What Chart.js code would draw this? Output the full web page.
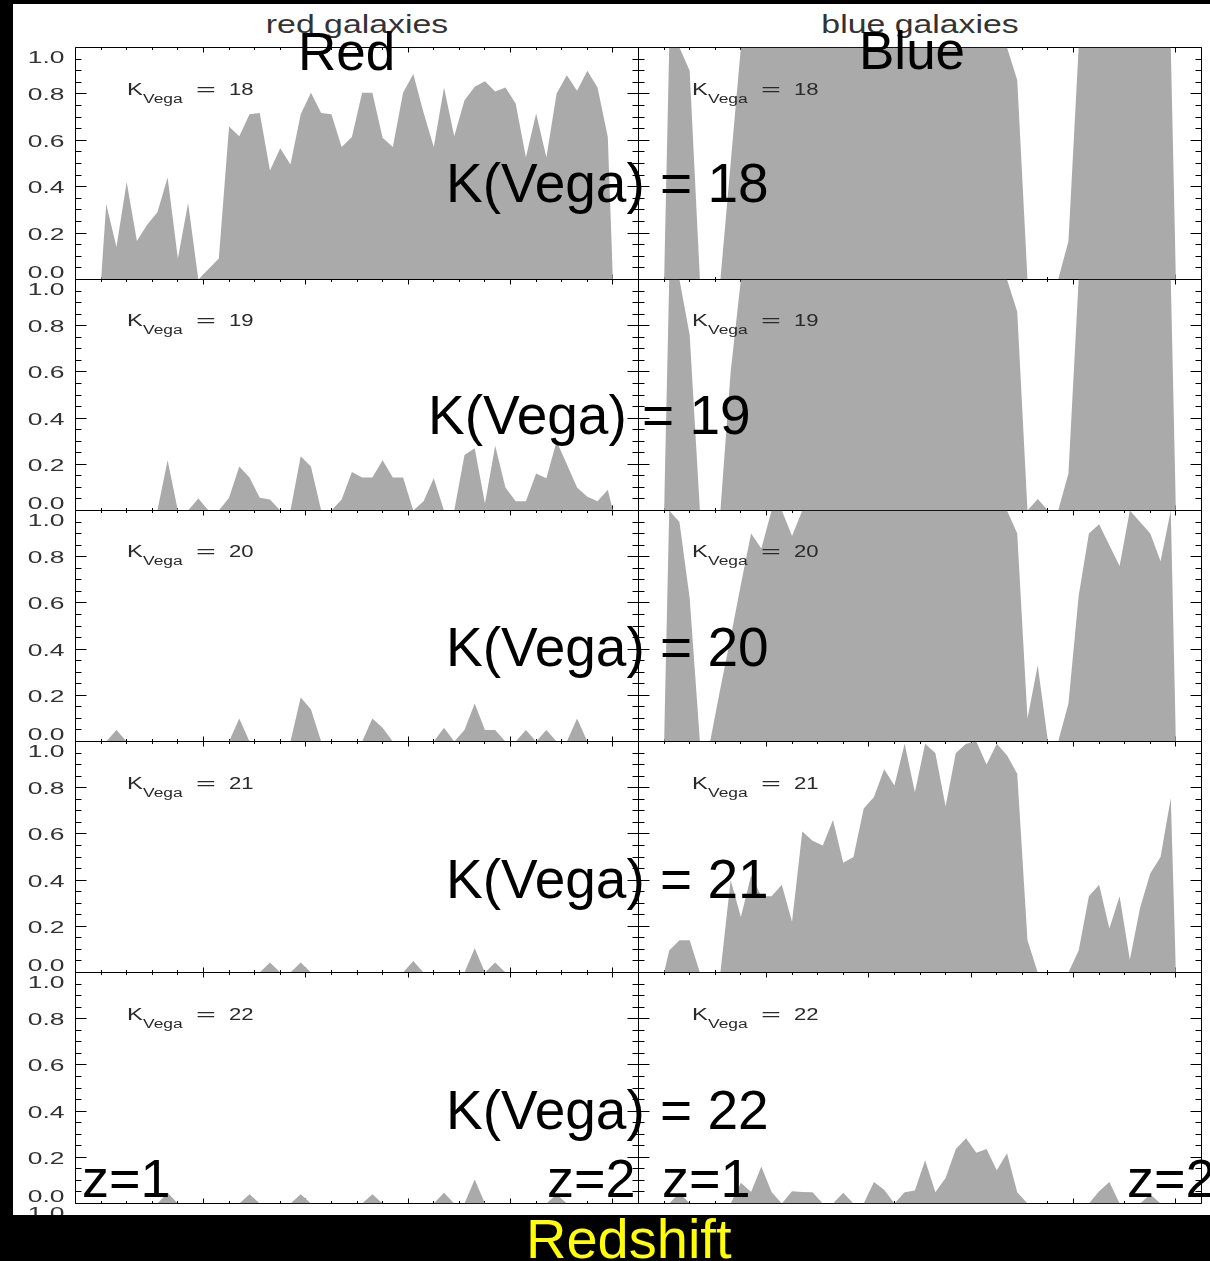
<!DOCTYPE html>
<html>
<head>
<meta charset="utf-8">
<script src="https://cdn.jsdelivr.net/npm/chart.js@4/dist/chart.umd.min.js"></script>
<style>
html,body{margin:0;padding:0;background:#fff;}
#wrap{position:relative;width:1210px;height:1261px;overflow:hidden;background:#fff;font-family:'Liberation Sans',Arial,Helvetica,sans-serif;}
#wrap canvas{position:absolute;}
.t{position:absolute;white-space:nowrap;line-height:1;}
.band{position:absolute;background:#000;z-index:20;}
</style>
</head>
<body>
<div id="wrap"></div>
<script>
// ---------- data ----------
const zBins = [1.00,
  1.01,1.03,1.05,1.07,1.09,1.11,1.13,1.15,1.17,1.19,
  1.21,1.23,1.25,1.27,1.29,1.31,1.33,1.35,1.37,1.39,
  1.41,1.43,1.45,1.47,1.49,1.51,1.53,1.55,1.57,1.59,
  1.61,1.63,1.65,1.67,1.69,1.71,1.73,1.75,1.77,1.79,
  1.81,1.83,1.85,1.87,1.89,1.91,1.93,1.95,1.97,1.99,
  2.00];

const magLabels = ['18','19','20','21','22'];
const columnTitles = ['red galaxies','blue galaxies'];
const columnNames = ['Red','Blue'];
const yTickValues = [0,0.2,0.4,0.6,0.8,1.0];
const yTickLabels = ['0.0','0.2','0.4','0.6','0.8','1.0'];
const xMajorTicks = [1.2,1.4,1.6,1.8,2.0];

const redK18 = [0,
  0.325,0.14,0.42,0.166,0.236,0.29,0.44,0.09,0.33,0,
  0.045,0.09,0.66,0.617,0.712,0.718,0.47,0.566,0.496,0.712,
  0.805,0.718,0.712,0.571,0.614,0.805,0.805,0.611,0.571,0.805,
  0.886,0.72,0.571,0.828,0.617,0.773,0.831,0.855,0.81,0.828,
  0.759,0.527,0.715,0.527,0.802,0.88,0.814,0.9,0.828,0.614,
  0];
const redK19 = [0,
  0,0,0,0,0,0,0.218,0,0,0.052,
  0,0,0.055,0.19,0.143,0.055,0.048,0,0,0.235,
  0.19,0,0,0.048,0.167,0.143,0.143,0.218,0.143,0.143,
  0,0.04,0.14,0,0,0.24,0.27,0.03,0.28,0.1,
  0.04,0.04,0.16,0.14,0.3,0.2,0.1,0.06,0.04,0.09,
  0];
const redK20 = [0,
  0,0.05,0,0,0,0,0,0,0,0,
  0,0,0,0.1,0,0,0,0,0,0.19,
  0.14,0,0,0,0,0,0.1,0.06,0,0,
  0,0,0,0.06,0,0.05,0.165,0.05,0.05,0,
  0,0.05,0,0.05,0,0,0.1,0,0,0,
  0];
const redK21 = [0,
  0,0,0,0,0,0,0,0,0,0,
  0,0,0,0,0,0,0.043,0,0,0.043,
  0,0,0,0,0,0,0,0,0,0,
  0.05,0,0,0,0,0,0.105,0,0.043,0,
  0,0,0,0,0,0,0,0,0,0,
  0];
const redK22 = [0,
  0,0,0,0,0,0,0.047,0,0,0,
  0,0,0,0,0.04,0,0,0,0,0.04,
  0,0,0,0,0,0,0.04,0,0,0,
  0,0,0,0.047,0,0,0.104,0,0,0,
  0,0,0,0,0.04,0,0,0,0,0,
  0];
const blueK18 = [0,
  1,1,0.9,0,0,0,0.5,1,1,1,
  1,1,1,1,1,1,1,1,1,1,
  1,1,1,1,1,1,1,1,1,1,
  1,1,1,1,0.86,0,0,0,0,0.165,
  1,1,1,1,1,1,1,1,1,1,
  0];
const blueK19 = [0,
  1,1,0.76,0,0,0,0.6,1,1,1,
  1,1,1,1,1,1,1,1,1,1,
  1,1,1,1,1,1,1,1,1,1,
  1,1,1,1,0.86,0,0.05,0,0,0.16,
  1,1,1,1,1,1,1,1,1,1,
  0];
const blueK20 = [0,
  1,0.95,0.62,0,0,0.23,0.45,0.68,0.9,0.835,
  1,1,0.89,1,1,1,1,1,1,1,
  1,1,1,1,1,1,1,1,1,1,
  1,1,1,1,0.9,0.1,0.33,0,0,0.165,
  0.63,0.9,0.94,0.85,0.76,1,0.95,0.9,0.78,1,
  0];
const blueK21 = [0,
  0.095,0.14,0.14,0,0,0,0.40,0.24,0.42,0.33,
  0.33,0.38,0.22,0.61,0.57,0.55,0.66,0.475,0.5,0.71,
  0.76,0.88,0.81,0.99,0.78,0.99,0.95,0.72,0.95,0.99,
  1.0,0.9,0.99,0.94,0.86,0.14,0,0,0,0,
  0.095,0.33,0.38,0.19,0.33,0.055,0.28,0.43,0.5,0.755,
  0];
const blueK22 = [0,
  0,0.046,0,0,0,0,0,0.09,0.05,0.16,
  0.05,0,0.053,0.05,0.049,0,0,0.046,0,0,
  0.093,0.06,0,0.049,0.056,0.187,0.049,0.11,0.236,0.283,
  0.22,0.236,0.144,0.218,0.049,0,0,0,0,0,
  0,0,0.053,0.093,0,0,0,0.039,0,0,
  0];

const redSeries = [redK18, redK19, redK20, redK21, redK22];
const blueSeries = [blueK18, blueK19, blueK20, blueK21, blueK22];

// ---------- layout ----------
const wrap = document.getElementById('wrap');
const FONT = "'Liberation Sans', Arial, Helvetica, sans-serif";
const colL = [75.5, 638.5], colR = [638.5, 1201.5];
function rowTop(r){ return Math.round(48.3 + r*231.2) - 0.5; }

// IDL-like frame with inward ticks, drawn through the chart's own scales
const idlAxes = {
  id: 'idlAxes',
  beforeDatasetsDraw(chart, args, opts) {
    const {ctx, chartArea: a, scales: {x, y}} = chart;
    ctx.save();
    ctx.strokeStyle = '#000';
    ctx.lineWidth = 1;
    ctx.beginPath();
    ctx.rect(a.left, a.top, a.right - a.left, a.bottom - a.top);
    for (let k = 0; k <= 20; k++) {
      const v = k * 0.05;
      const major = (k % 4 === 0);
      const len = major ? 11 : 6;
      const py = Math.round(y.getPixelForValue(v) - 0.5) + 0.5;
      ctx.moveTo(a.left, py); ctx.lineTo(a.left + len, py);
      ctx.moveTo(a.right, py); ctx.lineTo(a.right - len, py);
    }
    for (let k = 0; k <= 20; k++) {
      const v = 1 + k * 0.05;
      const major = xMajorTicks.some(m => Math.abs(m - v) < 1e-6);
      const len = major ? 5 : 2.5;
      const px = Math.round(x.getPixelForValue(v) - 0.5) + 0.5;
      ctx.moveTo(px, a.bottom); ctx.lineTo(px, a.bottom - len);
      ctx.moveTo(px, a.top); ctx.lineTo(px, a.top + len);
    }
    ctx.stroke();
    ctx.restore();
  },
  afterDraw(chart, args, opts) {
    if (!opts.labels) return;
    const {ctx, chartArea: a, scales: {y}} = chart;
    ctx.save();
    ctx.fillStyle = '#333';
    ctx.font = '16px ' + FONT;
    ctx.textAlign = 'right';
    ctx.textBaseline = 'middle';
    const draw = (txt, py) => {
      ctx.save();
      ctx.translate(64.5 - chart.canvas.offsetLeft, py + 2);
      ctx.scale(1.65, 1);
      ctx.fillText(txt, 0, 0);
      ctx.restore();
    };
    yTickValues.forEach((v, i) => {
      let py = y.getPixelForValue(v);
      if (v === 1.0) py = a.top + 9;
      if (v === 0) py = a.bottom - 8;
      draw(yTickLabels[i], py);
    });
    if (opts.extraBelow) draw(yTickLabels[5], a.bottom + 9);
    ctx.restore();
  }
};

function makePanel(col, row, series) {
  const plotL = colL[col], plotR = colR[col];
  const plotT = rowTop(row), plotB = rowTop(row + 1);
  const cl = col === 0 ? 13 : 636;
  const cr = col === 0 ? 641 : 1206;
  const ct = Math.floor(plotT) - 3;
  const cb = row === 4 ? 1222 : Math.ceil(plotB) + 3;
  const cv = document.createElement('canvas');
  cv.width = cr - cl; cv.height = cb - ct;
  cv.style.left = cl + 'px'; cv.style.top = ct + 'px';
  cv.style.width = (cr - cl) + 'px'; cv.style.height = (cb - ct) + 'px';
  cv.style.zIndex = 2;
  wrap.appendChild(cv);
  new Chart(cv.getContext('2d'), {
    type: 'line',
    data: {
      datasets: [{
        data: zBins.map((z, i) => ({x: z, y: series[i]})),
        fill: 'origin',
        backgroundColor: '#aaaaaa',
        borderColor: 'rgba(0,0,0,0)',
        borderWidth: 0,
        pointRadius: 0,
        tension: 0
      }]
    },
    options: {
      responsive: false,
      animation: false,
      events: [],
      devicePixelRatio: 1,
      layout: {padding: {left: plotL - cl, right: cr - plotR, top: plotT - ct, bottom: cb - plotB}},
      scales: {
        x: {type: 'linear', min: 0.95, max: 2.05, display: false},
        y: {type: 'linear', min: 0, max: 1.0, display: false}
      },
      plugins: {
        legend: {display: false},
        tooltip: {enabled: false},
        idlAxes: {labels: col === 0, extraBelow: col === 0 && row === 4}
      }
    },
    plugins: [idlAxes]
  });
}

for (let r = 0; r < 5; r++) {
  makePanel(0, r, redSeries[r]);
  makePanel(1, r, blueSeries[r]);
}

// ---------- text ----------
function addText(txt, left, baseline, fs, color, opts) {
  opts = opts || {};
  const d = document.createElement('div');
  d.className = 't';
  d.textContent = txt;
  d.style.fontSize = fs + 'px';
  d.style.color = color;
  d.style.top = (baseline - 0.8465 * fs) + 'px';
  d.style.zIndex = opts.z || 10;
  if (opts.center) {
    d.style.left = (left - 300) + 'px';
    d.style.width = '600px';
    d.style.textAlign = 'center';
    if (opts.sx) { d.style.transform = 'scaleX(' + opts.sx + ')'; d.style.transformOrigin = '50% 0'; }
  } else {
    d.style.left = left + 'px';
    if (opts.sx) { d.style.transform = 'scaleX(' + opts.sx + ')'; d.style.transformOrigin = '0 0'; }
  }
  wrap.appendChild(d);
}

addText(columnTitles[0], 356.5, 33, 26, '#333', {center: true, sx: 1.3});
addText(columnTitles[1], 920, 33, 26, '#333', {center: true, sx: 1.3});
addText(columnNames[0], 298, 70, 53, '#000', {z: 12});
addText(columnNames[1], 859, 69, 53, '#000', {z: 12});

const bigBase = [203, 435, 667, 899, 1130];
const bigLeft = [446, 428, 446, 446, 446];
for (let r = 0; r < 5; r++) {
  for (let c = 0; c < 2; c++) {
    const ox = c * 564.5, oy = r * 231.3;
    addText('K', 127 + ox, 95 + oy, 17, '#2a2a2a', {sx: 1.4});
    addText('Vega', 143 + ox, 103 + oy, 12, '#2a2a2a', {sx: 1.45});
    addText('=', 196 + ox, 95 + oy, 17, '#2a2a2a', {sx: 2.0});
    addText(magLabels[r], 229 + ox, 95 + oy, 17, '#2a2a2a', {sx: 1.3});
  }
  addText('K(Vega) = ' + magLabels[r], bigLeft[r], bigBase[r], 55, '#000', {z: 12});
}

addText('z=1', 82, 1197, 54, '#000', {z: 12});
addText('z=2', 547, 1197, 54, '#000', {z: 12});
addText('z=1', 662, 1197, 54, '#000', {z: 12});
addText('z=2', 1127, 1197, 54, '#000', {z: 12});

function band(l, t, w, h) {
  const d = document.createElement('div');
  d.className = 'band';
  d.style.left = l + 'px'; d.style.top = t + 'px';
  d.style.width = w + 'px'; d.style.height = h + 'px';
  wrap.appendChild(d);
}
band(0, 0, 13, 1261);
band(0, 0, 1210, 4);
band(0, 1215, 1210, 46);

addText('Redshift', 526, 1258, 56, '#ffff00', {z: 30});
</script>
</body>
</html>
